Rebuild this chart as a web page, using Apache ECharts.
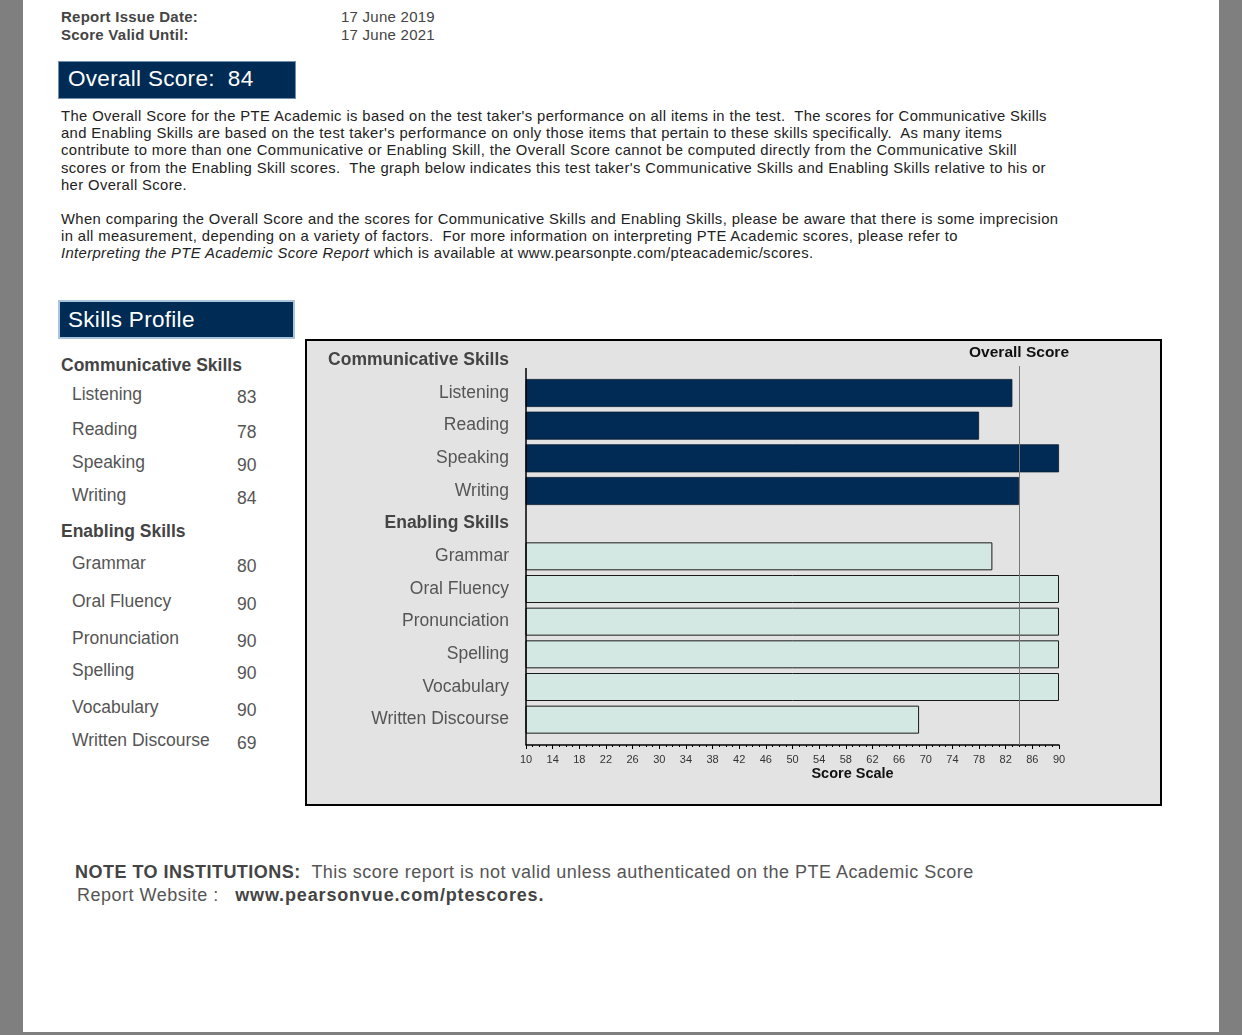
<!DOCTYPE html>
<html>
<head>
<meta charset="utf-8">
<script src="https://cdn.jsdelivr.net/npm/echarts@6/dist/echarts.min.js"></script>
<style>
  html, body { margin: 0; padding: 0; }
  body { width: 1242px; height: 1035px; background: #7f7f7f; position: relative; overflow: hidden;
         font-family: "Liberation Sans", Arial, sans-serif; }
  #page { position: absolute; left: 23px; top: 0; width: 1196px; height: 1032px; background: #fff; }
  .abs { position: absolute; white-space: pre; }
  .hdr { font-size: 15px; line-height: 17px; color: #444; letter-spacing: 0.25px; }
  .box { position: absolute; background: #002b54; color: #fff; font-size: 22.5px; box-sizing: border-box; white-space: pre; letter-spacing: 0.3px; }
  .para { position: absolute; left: 61px; font-size: 14.8px; line-height: 17.2px; color: #222; white-space: pre; letter-spacing: 0.38px; }
  .lst { font-size: 17.5px; line-height: 20px; color: #555; }
  #chart { position: absolute; left: 0; top: 0; width: 1242px; height: 1035px; }
</style>
</head>
<body>
<div id="page"></div>
<div class="abs hdr" style="left:61px;top:8px;font-weight:bold;">Report Issue Date:</div>
<div class="abs hdr" style="left:61px;top:26px;font-weight:bold;">Score Valid Until:</div>
<div class="abs hdr" style="left:341px;top:8px;">17 June 2019</div>
<div class="abs hdr" style="left:341px;top:26px;">17 June 2021</div>

<div class="box" id="overallBox" style="left:58px;top:61px;width:238px;height:38px;line-height:34px;padding-left:9px;border:1px solid #6f8fb0;"></div>

<div class="para" style="top:108px;">The Overall Score for the PTE Academic is based on the test taker's performance on all items in the test.  The scores for Communicative Skills
and Enabling Skills are based on the test taker's performance on only those items that pertain to these skills specifically.  As many items
contribute to more than one Communicative or Enabling Skill, the Overall Score cannot be computed directly from the Communicative Skill
scores or from the Enabling Skill scores.  The graph below indicates this test taker's Communicative Skills and Enabling Skills relative to his or
her Overall Score.</div>
<div class="para" style="top:211px;">When comparing the Overall Score and the scores for Communicative Skills and Enabling Skills, please be aware that there is some imprecision
in all measurement, depending on a variety of factors.  For more information on interpreting PTE Academic scores, please refer to
<i>Interpreting the PTE Academic Score Report</i> which is available at www.pearsonpte.com/pteacademic/scores.</div>

<div class="box" style="left:58px;top:300px;width:237px;height:39px;line-height:35px;padding-left:8px;border:2px solid #a9c4dc;">Skills Profile</div>

<div id="list"></div>

<div class="abs" style="left:75px;top:861px;font-size:18px;line-height:22px;color:#555;letter-spacing:0.48px;"><b style="color:#444;">NOTE TO INSTITUTIONS:</b>  This score report is not valid unless authenticated on the PTE Academic Score</div>
<div class="abs" style="left:77px;top:884px;font-size:18px;line-height:22px;color:#555;letter-spacing:0.5px;">Report Website :   <b style="color:#444;letter-spacing:0.85px;">www.pearsonvue.com/ptescores.</b></div>

<div id="chart"></div>
<script>
// ---- data ----
const overallScore = 84;
const commHeader = 'Communicative Skills';
const commSkills = ['Listening', 'Reading', 'Speaking', 'Writing'];
const commScores = [83, 78, 90, 84];
const enabHeader = 'Enabling Skills';
const enabSkills = ['Grammar', 'Oral Fluency', 'Pronunciation', 'Spelling', 'Vocabulary', 'Written Discourse'];
const enabScores = [80, 90, 90, 90, 90, 69];
const scaleMin = 10, scaleMax = 90, scaleStep = 4;

// ---- layout (not data) ----
const listHeaderTops = [355, 521];
const listRowTops = [384, 419, 452, 485, 553, 591, 628, 660, 697, 730];

document.getElementById('overallBox').textContent = 'Overall Score:  ' + overallScore;

// left list
(function () {
  const list = document.getElementById('list');
  function add(txt, left, top, bold) {
    const d = document.createElement('div');
    d.className = 'abs lst';
    d.style.left = left + 'px';
    d.style.top = top + 'px';
    if (bold) { d.style.fontWeight = 'bold'; d.style.color = '#444'; d.style.fontSize = '17.5px'; }
    d.textContent = txt;
    list.appendChild(d);
  }
  add(commHeader, 61, listHeaderTops[0], true);
  add(enabHeader, 61, listHeaderTops[1], true);
  const names = commSkills.concat(enabSkills);
  const vals = commScores.concat(enabScores);
  names.forEach((n, i) => {
    add(n, 72, listRowTops[i], false);
    add(String(vals[i]), 237, listRowTops[i] + 3, false);
  });
})();

// chart categories
const categories = [commHeader].concat(commSkills, [enabHeader], enabSkills);
const headers = [commHeader, enabHeader];
const commData = categories.map(c => { const i = commSkills.indexOf(c); return i >= 0 ? commScores[i] : '-'; });
const enabData = categories.map(c => { const i = enabSkills.indexOf(c); return i >= 0 ? enabScores[i] : '-'; });

const chart = echarts.init(document.getElementById('chart'), null, { renderer: 'canvas' });
chart.setOption({
  animation: false,
  backgroundColor: 'transparent',
  textStyle: { fontFamily: '"Liberation Sans", Arial, sans-serif' },
  graphic: [{
    type: 'rect', z: -10,
    shape: { x: 306, y: 340, width: 855, height: 465 },
    style: { fill: '#e3e3e3', stroke: '#000', lineWidth: 2 }
  }],
  grid: { left: 526, right: 183, top: 344, height: 392, containLabel: false },
  xAxis: {
    type: 'value', min: scaleMin, max: scaleMax, interval: scaleStep,
    offset: 9,
    splitLine: { show: false },
    axisLine: { show: true, lineStyle: { color: '#000', width: 1.5 } },
    axisTick: { show: true, length: 4, lineStyle: { color: '#000' } },
    minorTick: { show: true, splitNumber: 4, length: 2, lineStyle: { color: '#000' } },
    axisLabel: { fontSize: 11, color: '#333', margin: 9 },
    name: 'Score Scale', nameLocation: 'middle', nameGap: 21,
    nameTextStyle: { fontSize: 14.5, fontWeight: 'bold', color: '#111', padding: [0, 0, 0, 120] }
  },
  yAxis: {
    type: 'category', inverse: true, data: categories,
    axisLine: { show: false }, axisTick: { show: false }, splitLine: { show: false },
    axisLabel: {
      margin: 17, fontSize: 17.5, color: '#555',
      formatter: v => headers.indexOf(v) >= 0 ? '{h|' + v + '}' : '{n|' + v + '}',
      rich: {
        h: { fontSize: 17.5, fontWeight: 'bold', color: '#444' },
        n: { fontSize: 17.5, color: '#555' }
      }
    }
  },
  series: [
    {
      name: 'Communicative Skills', type: 'bar', data: commData, barWidth: 28, barGap: '-100%',
      itemStyle: { color: '#012b55', borderColor: '#0a1a30', borderWidth: 0.8 },
      markLine: {
        silent: true, symbol: 'none',
        lineStyle: { color: '#000', width: 1.5, type: 'solid' },
        label: { show: false },
        data: [[{ xAxis: scaleMin, y: 368 }, { xAxis: scaleMin, y: 745 }]]
      }
    },
    {
      name: 'Enabling Skills', type: 'bar', data: enabData, barWidth: 28, barGap: '-100%',
      itemStyle: { color: '#d4e8e3', borderColor: '#1a1a1a', borderWidth: 1 },
      markLine: {
        silent: true, symbol: 'none',
        lineStyle: { color: '#777', width: 1, type: 'solid' },
        label: { show: true, position: 'end', formatter: 'Overall Score', fontSize: 15.5, fontWeight: 'bold', color: '#111', distance: 5 },
        data: [[{ xAxis: overallScore, y: 745 }, { xAxis: overallScore, y: 366 }]]
      }
    }
  ]
});
</script>
</body>
</html>
